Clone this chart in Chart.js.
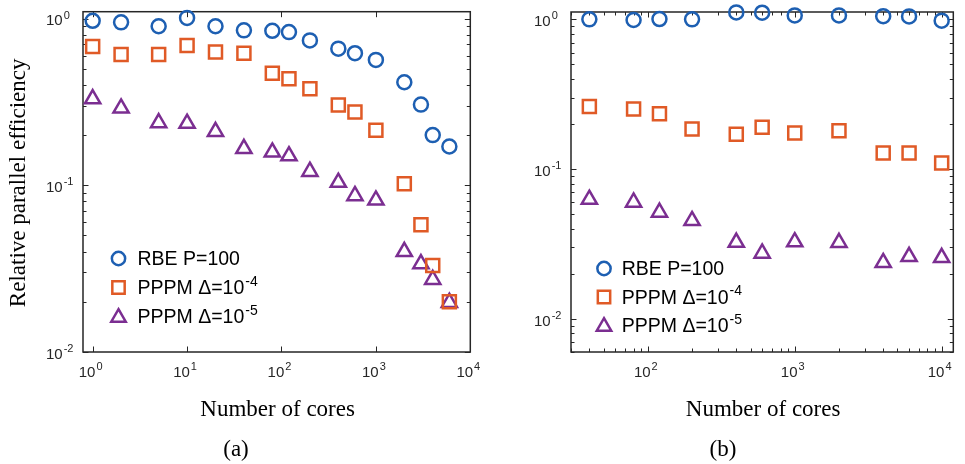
<!DOCTYPE html>
<html>
<head>
<meta charset="utf-8">
<script src="https://cdn.jsdelivr.net/npm/chart.js@4.4.0/dist/chart.umd.min.js"></script>
<style>
  body { margin: 0; background: #fff; }
  #wrap { position: relative; width: 965px; height: 464px; }
  canvas { position: absolute; top: 0; }
</style>
</head>
<body>
<div id="wrap">
  <canvas id="chartA" width="482" height="464" style="left:0"></canvas>
  <canvas id="chartB" width="483" height="464" style="left:482px"></canvas>
</div>
<script>
// panel (a)
const coresA = [1, 2, 5, 10, 20, 40, 80, 120, 200, 400, 600, 1000, 2000, 3000, 4000, 6000];
const rbeA = [0.97, 0.95, 0.90, 1.01, 0.90, 0.85, 0.845, 0.83, 0.74, 0.66, 0.62, 0.565, 0.415, 0.305, 0.20, 0.171];
const pppm4A = [0.68, 0.61, 0.61, 0.69, 0.63, 0.62, 0.47, 0.436, 0.38, 0.303, 0.275, 0.214, 0.102, 0.058, 0.033, 0.020];
const pppm5A = [0.33, 0.29, 0.237, 0.235, 0.21, 0.166, 0.158, 0.15, 0.121, 0.104, 0.0865, 0.0814, 0.040, 0.0338, 0.0272, 0.0198];

// panel (b)
const coresB = [40, 80, 120, 200, 400, 600, 1000, 2000, 4000, 6000, 10000];
const rbeB = [1.0, 0.99, 1.005, 1.0, 1.113, 1.108, 1.063, 1.063, 1.05, 1.047, 0.98];
const pppm4B = [0.262, 0.252, 0.234, 0.185, 0.171, 0.19, 0.174, 0.18, 0.128, 0.128, 0.11];
const pppm5B = [0.0627, 0.060, 0.0514, 0.0452, 0.0324, 0.0274, 0.0326, 0.0323, 0.0237, 0.026, 0.0256];

const xTicksA = [1, 10, 100, 1000, 10000];
const yTicksA = [0.01, 0.1, 1];
const xTicksB = [100, 1000, 10000];
const yTicksB = [0.01, 0.1, 1];

const seriesLabels = ['RBE P=100', 'PPPM \u0394=10', 'PPPM \u0394=10'];
const seriesExps = ['', '-4', '-5'];
const seriesColors = ['#1D5FB2', '#E05A26', '#7B2E91'];
const seriesStyles = ['circle', 'rect', 'triangle'];
const markerRadius = [7, 9.2, 8.8];

var SANS = '"Liberation Sans", Arial, Helvetica, sans-serif';
var SERIF = '"Liberation Serif", "Times New Roman", serif';
var AXIS_COLOR = '#262626';

function toPoints(xs, ys) {
    return xs.map(function (x, i) { return { x: x, y: ys[i] }; });
}

function expOf(v) {
    return String(Math.round(Math.log10(v)));
}

// width of base + superscript
function powWidth(ctx, base, exp, size, supSize) {
    ctx.font = size + 'px ' + SANS;
    var w = ctx.measureText(base).width;
    ctx.font = supSize + 'px ' + SANS;
    return w + ctx.measureText(exp).width + 1;
}

// x = left edge, yMid = visual middle of the base digits
function drawPow(ctx, base, exp, x, yMid, size, supSize, rise) {
    ctx.textAlign = 'left';
    ctx.textBaseline = 'alphabetic';
    ctx.font = size + 'px ' + SANS;
    ctx.fillText(base, x, yMid + 0.358 * size);
    var w = ctx.measureText(base).width;
    ctx.font = supSize + 'px ' + SANS;
    ctx.fillText(exp, x + w + 1, yMid - rise + 0.358 * supSize);
}

function logTicks(min, max, minor) {
    var out = [];
    for (var k = Math.floor(Math.log10(min)); k <= Math.ceil(Math.log10(max)); k++) {
        for (var m = 1; m <= 9; m++) {
            if (m > 1 && !minor) continue;
            var v = m * Math.pow(10, k);
            if (v >= min * 0.999 && v <= max * 1.001) out.push({ v: v, major: m === 1 });
        }
    }
    return out;
}

function drawMarker(ctx, style, x, y, r) {
    ctx.beginPath();
    if (style === 'circle') {
        ctx.arc(x, y, r, 0, Math.PI * 2);
    } else if (style === 'rect') {
        var s = Math.SQRT1_2 * r;
        ctx.rect(x - s, y - s, 2 * s, 2 * s);
    } else {
        var rad = 0;
        ctx.moveTo(x + Math.sin(rad) * r, y - Math.cos(rad) * r);
        rad += Math.PI * 2 / 3;
        ctx.lineTo(x + Math.sin(rad) * r, y - Math.cos(rad) * r);
        rad += Math.PI * 2 / 3;
        ctx.lineTo(x + Math.sin(rad) * r, y - Math.cos(rad) * r);
        ctx.closePath();
    }
    ctx.stroke();
}

function axesPlugin(cfg) {
    return {
        id: 'matlabAxes',
        beforeDatasetsDraw: function (chart) {
            var ctx = chart.ctx, a = chart.chartArea;
            var xs = chart.scales.x, ys = chart.scales.y;
            ctx.save();
            ctx.strokeStyle = AXIS_COLOR;
            ctx.lineWidth = 1.5;
            ctx.strokeRect(a.left, a.top, a.right - a.left, a.bottom - a.top);

            ctx.lineWidth = 1;
            ctx.beginPath();
            logTicks(xs.min, xs.max, cfg.xMinor).forEach(function (t) {
                var px = Math.round(xs.getPixelForValue(t.v)) + 0.5;
                var len = t.major ? 5.5 : 3.5;
                ctx.moveTo(px, a.bottom); ctx.lineTo(px, a.bottom - len);
                ctx.moveTo(px, a.top); ctx.lineTo(px, a.top + len);
            });
            logTicks(ys.min, ys.max, cfg.yMinor).forEach(function (t) {
                var py = Math.round(ys.getPixelForValue(t.v)) + 0.5;
                var len = t.major ? 5.5 : 3.5;
                ctx.moveTo(a.left, py); ctx.lineTo(a.left + len, py);
                ctx.moveTo(a.right, py); ctx.lineTo(a.right - len, py);
            });
            ctx.stroke();
            ctx.restore();
        },
        afterDraw: function (chart) {
            var ctx = chart.ctx, a = chart.chartArea;
            var xs = chart.scales.x, ys = chart.scales.y;
            ctx.save();
            ctx.fillStyle = AXIS_COLOR;

            // tick labels
            cfg.xTicks.forEach(function (v) {
                var px = xs.getPixelForValue(v);
                var e = expOf(v);
                var w = powWidth(ctx, '10', e, 15, 11);
                drawPow(ctx, '10', e, px - w / 2 - 2, 372, 15, 11, 5.5);
            });
            cfg.yTicks.forEach(function (v) {
                var py = ys.getPixelForValue(v);
                drawPow(ctx, '10', expOf(v), a.left - 37, py + 1.5, 15, 11, 5.5);
            });

            // axis titles
            ctx.fillStyle = '#000';
            ctx.font = '23px ' + SERIF;
            ctx.textAlign = 'center';
            ctx.textBaseline = 'alphabetic';
            ctx.fillText('Number of cores', (a.left + a.right) / 2 + 1, 416);
            ctx.fillText(cfg.tag, cfg.tagX, 456);
            if (cfg.yTitle) {
                ctx.save();
                ctx.translate(25, (a.top + a.bottom) / 2 + 1);
                ctx.rotate(-Math.PI / 2);
                ctx.fillText(cfg.yTitle, 0, 0);
                ctx.restore();
            }

            // legend
            ctx.lineWidth = 2.5;
            seriesLabels.forEach(function (label, i) {
                var y = cfg.legendRows[i];
                ctx.strokeStyle = seriesColors[i];
                var my = seriesStyles[i] === 'triangle' ? y + 1 : y;
                drawMarker(ctx, seriesStyles[i], cfg.legendX, my, markerRadius[i] * 0.95);
                ctx.fillStyle = '#000';
                drawPow(ctx, label, seriesExps[i], cfg.legendTextX, y, 19.5, 14, 7);
            });
            ctx.restore();
        }
    };
}

function makePanel(canvasId, cores, series, cfg) {
    var datasets = series.map(function (vals, i) {
        return {
            label: seriesLabels[i],
            data: toPoints(cores, vals),
            showLine: false,
            pointStyle: seriesStyles[i],
            pointRadius: markerRadius[i],
            pointHoverRadius: markerRadius[i],
            pointBorderWidth: 2.5,
            pointHoverBorderWidth: 2.5,
            borderColor: seriesColors[i],
            backgroundColor: 'rgba(0,0,0,0)',
            pointBackgroundColor: 'rgba(0,0,0,0)',
            clip: false
        };
    });
    return new Chart(document.getElementById(canvasId), {
        type: 'scatter',
        data: { datasets: datasets },
        options: {
            responsive: false,
            animation: false,
            devicePixelRatio: 1,
            layout: { padding: cfg.padding },
            plugins: { legend: { display: false }, tooltip: { enabled: false } },
            scales: {
                x: { type: 'logarithmic', min: cfg.xMin, max: cfg.xMax, display: false },
                y: { type: 'logarithmic', min: cfg.yMin, max: cfg.yMax, display: false }
            }
        },
        plugins: [axesPlugin(cfg)]
    });
}

makePanel('chartA', coresA, [rbeA, pppm4A, pppm5A], {
    padding: { left: 83, top: 10, right: 8, bottom: 112 },
    xMin: 0.79, xMax: 10000, yMin: 0.01, yMax: 1.1,
    xMinor: false, yMinor: true,
    xTicks: xTicksA, yTicks: yTicksA,
    yTitle: 'Relative parallel efficiency',
    tag: '(a)', tagX: 236,
    legendX: 118.5, legendTextX: 137.5, legendRows: [258.5, 287.5, 316.5]
});

makePanel('chartB', coresB, [rbeB, pppm4B, pppm5B], {
    padding: { left: 89, top: 12, right: 2, bottom: 112 },
    xMin: 30, xMax: 12000, yMin: 0.006, yMax: 1.12,
    xMinor: true, yMinor: true,
    xTicks: xTicksB, yTicks: yTicksB,
    yTitle: null,
    tag: '(b)', tagX: 241,
    legendX: 122, legendTextX: 139.7, legendRows: [268.5, 297, 325.5]
});
</script>
</body>
</html>
